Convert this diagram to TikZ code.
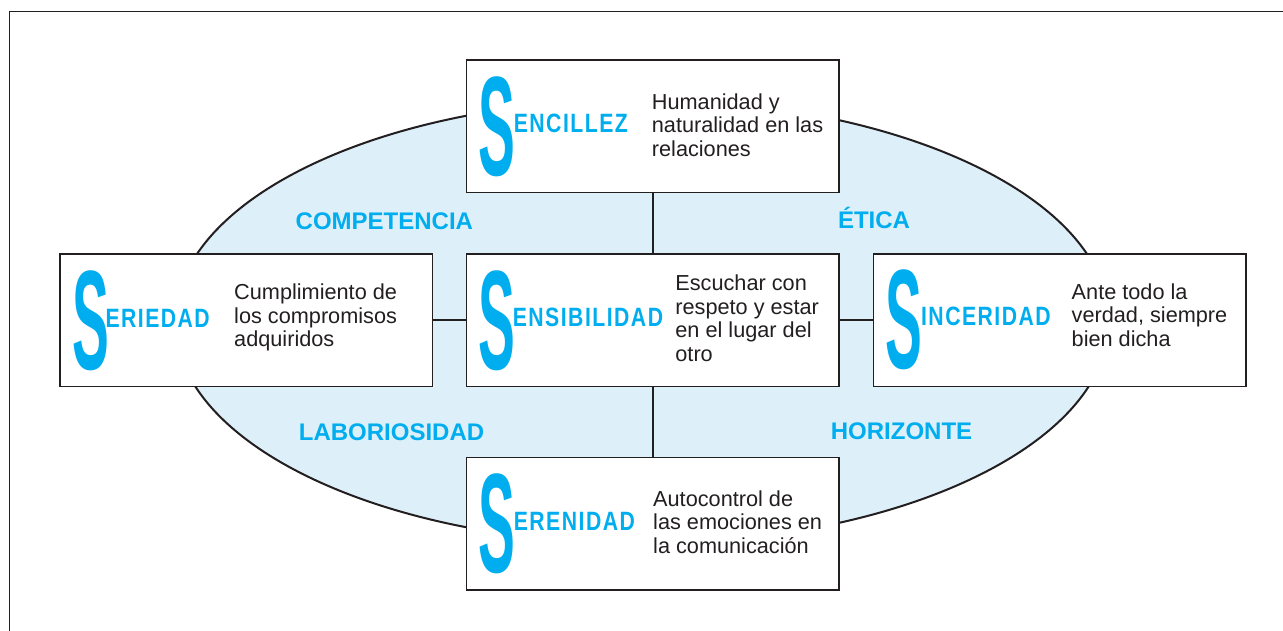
\documentclass[tikz,border=0pt]{standalone}
\usepackage{fontspec}
\setmainfont{Liberation Sans}
\usepackage{graphicx}
\definecolor{ink}{HTML}{231F20}
\definecolor{cyanS}{HTML}{00AEEF}
\definecolor{ellfill}{HTML}{DDEFF9}
\newcommand\condword[1]{\scalebox{0.8}[1]{\addfontfeature{LetterSpace=7}#1}}
\newcommand\bigletter{\scalebox{0.39}[1]{S}}
\begin{document}
\begin{tikzpicture}[x=1pt,y=-1pt,
  box/.style={draw=ink, line width=1.3pt, fill=white, minimum width=372.5pt, minimum height=132.5pt, inner sep=0pt},
  bigS/.style={anchor=west, inner sep=0pt, text=cyanS, font=\fontsize{141.5}{141.5}\selectfont\bfseries},
  word/.style={anchor=base west, inner sep=0pt, text=cyanS, font=\fontsize{26.5}{26.5}\selectfont\bfseries},
  desc/.style={anchor=base west, inner sep=0pt, text=ink, align=left, font=\fontsize{21.7}{23.4}\selectfont},
  lbl/.style={anchor=base, inner sep=0pt, text=cyanS, font=\fontsize{24}{24}\selectfont\bfseries},
  link/.style={draw=ink, line width=2pt}]
\clip (0,0) rectangle (1283,630);
\fill[white] (0,0) rectangle (1283,630);
\draw[ink, line width=1.5pt] (9.5,650) -- (9.5,11.5) -- (1300,11.5);
\draw[fill=ellfill, draw=ink, line width=2pt] (642,321.5) ellipse [x radius=467, y radius=222];
% labels
\node[lbl] (competencia) at (384.4,229.3) {COMPETENCIA};
\node[lbl] (etica) at (874,228.3) {ÉTICA};
\node[lbl] (laboriosidad) at (391.5,440) {LABORIOSIDAD};
\node[lbl] (horizonte) at (901.5,439) {HORIZONTE};
% boxes
\node[box] (sen) at (652.75,126.25) {};
\node[box] (ser) at (246.25,320.25) {};
\node[box] (sens) at (652.75,320.25) {};
\node[box] (sin) at (1059.65,320.25) {};
\node[box] (sere) at (652.75,523.85) {};
% connectors
\draw[link] (sen.south) -- (sens.north);
\draw[link] (sens.south) -- (sere.north);
\draw[link] (ser.east) -- (sens.west);
\draw[link] (sens.east) -- (sin.west);
% Sencillez
\node[bigS] (senS) at (478.2,126.6) {\bigletter};
\node[word] (senW) at (513.6,132.3) {\condword{ENCILLEZ}};
\node[desc] (senD) at (651.7,156) {Humanidad y\\naturalidad en las\\relaciones};
% Seriedad
\node[bigS] (serS) at (72.5,320.5) {\bigletter};
\node[word] (serW) at (105.3,327) {\condword{ERIEDAD}};
\node[desc] (serD) at (234,346.7) {Cumplimiento de\\los compromisos\\adquiridos};
% Sensibilidad
\node[bigS] (sensS) at (478.2,320.4) {\bigletter};
\node[word] (sensW) at (512.6,326) {\condword{ENSIBILIDAD}};
\node[desc] (sensD) at (675.2,361) {Escuchar con\\respeto y estar\\en el lugar del\\otro};
% Sinceridad
\node[bigS] (sinS) at (885.2,320) {\bigletter};
\node[word] (sinW) at (920.9,325.3) {\condword{INCERIDAD}};
\node[desc] (sinD) at (1071.5,346.3) {Ante todo la\\verdad, siempre\\bien dicha};
% Serenidad
\node[bigS] (sereS) at (478.5,523.7) {\bigletter};
\node[word] (sereW) at (513.6,530.3) {\condword{ERENIDAD}};
\node[desc] (sereD) at (653,553) {Autocontrol de\\las emociones en\\la comunicación};
\end{tikzpicture}
\end{document}
